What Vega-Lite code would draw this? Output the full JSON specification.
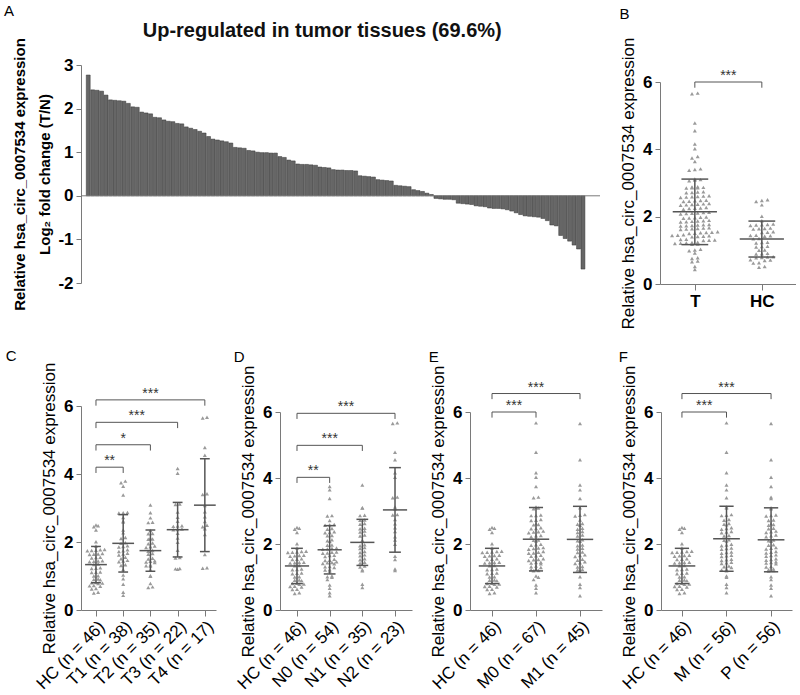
{
"$schema": "https://vega.github.io/schema/vega-lite/v6.json",
"background": "white",
"padding": {"left": 3, "top": 3, "right": 0, "bottom": 0},
"config": {
  "font": "Liberation Sans",
  "view": {"stroke": null},
  "axis": {"domainColor": "#7a7a7a", "tickColor": "#7a7a7a", "grid": false, "labelColor": "#000", "titleColor": "#000", "labelFont": "Liberation Sans", "titleFont": "Liberation Sans", "labelOverlap": false},
  "title": {"font": "Liberation Sans", "fontSize": 15, "fontWeight": "normal", "anchor": "start", "frame": "bounds", "color": "#000"}
},
"datasets": {
"fc": [
{"fc":2.77},{"fc":2.43},{"fc":2.42},{"fc":2.40},{"fc":2.31},{"fc":2.20},{"fc":2.19},{"fc":2.18},{"fc":2.17},{"fc":2.12},
{"fc":2.04},{"fc":2.03},{"fc":1.92},{"fc":1.90},{"fc":1.88},{"fc":1.80},{"fc":1.79},{"fc":1.74},{"fc":1.71},{"fc":1.70},
{"fc":1.66},{"fc":1.65},{"fc":1.58},{"fc":1.55},{"fc":1.52},{"fc":1.48},{"fc":1.44},{"fc":1.36},{"fc":1.30},{"fc":1.28},
{"fc":1.26},{"fc":1.24},{"fc":1.21},{"fc":1.11},{"fc":1.10},{"fc":1.09},{"fc":1.04},{"fc":1.03},{"fc":1.00},{"fc":0.99},
{"fc":0.99},{"fc":0.98},{"fc":0.98},{"fc":0.90},{"fc":0.88},{"fc":0.82},{"fc":0.80},{"fc":0.73},{"fc":0.72},{"fc":0.72},
{"fc":0.71},{"fc":0.70},{"fc":0.66},{"fc":0.65},{"fc":0.64},{"fc":0.60},{"fc":0.59},{"fc":0.59},{"fc":0.58},{"fc":0.58},
{"fc":0.57},{"fc":0.46},{"fc":0.45},{"fc":0.44},{"fc":0.43},{"fc":0.37},{"fc":0.36},{"fc":0.35},{"fc":0.34},{"fc":0.24},
{"fc":0.23},{"fc":0.22},{"fc":0.21},{"fc":0.14},{"fc":0.12},{"fc":0.10},{"fc":0.06},{"fc":0.03},
{"fc":-0.06},{"fc":-0.07},{"fc":-0.08},{"fc":-0.08},{"fc":-0.09},{"fc":-0.17},{"fc":-0.18},{"fc":-0.19},{"fc":-0.20},{"fc":-0.23},
{"fc":-0.24},{"fc":-0.25},{"fc":-0.28},{"fc":-0.29},{"fc":-0.29},{"fc":-0.30},{"fc":-0.32},{"fc":-0.35},{"fc":-0.39},{"fc":-0.43},
{"fc":-0.46},{"fc":-0.47},{"fc":-0.48},{"fc":-0.49},{"fc":-0.52},{"fc":-0.57},{"fc":-0.67},{"fc":-0.69},{"fc":-0.91},{"fc":-0.98},
{"fc":-1.04},{"fc":-1.13},{"fc":-1.22},{"fc":-1.68}
],
"pts": [
{"v":5.67,"t":"T4","n":"N2","m":"M0","h":"M"},
{"v":5.65,"t":"T4","n":"N2","m":"M1","h":"P"},
{"v":4.78,"t":"T4","n":"N2","m":"M0","h":"M"},
{"v":4.55,"t":"T4","n":"N2","m":"M1","h":"P"},
{"v":4.16,"t":"T3","n":"N2","m":"M0","h":"M"},
{"v":4.02,"t":"T3","n":"N2","m":"M0","h":"P"},
{"v":3.79,"t":"T1","n":"N1","m":"M1","h":"M"},
{"v":3.74,"t":"T1","n":"N0","m":"M0","h":"P"},
{"v":3.64,"t":"T1","n":"N0","m":"M1","h":"M"},
{"v":3.42,"t":"T4","n":"N2","m":"M0","h":"P"},
{"v":3.40,"t":"T4","n":"N2","m":"M0","h":"M"},
{"v":3.38,"t":"T1","n":"N0","m":"M1","h":"P"},
{"v":3.12,"t":"T3","n":"N2","m":"M0","h":"M"},
{"v":3.10,"t":"T3","n":"N1","m":"M1","h":"P"},
{"v":3.09,"t":"T2","n":"N1","m":"M0","h":"M"},
{"v":3.07,"t":"T4","n":"N2","m":"M0","h":"P"},
{"v":2.89,"t":"T4","n":"N2","m":"M1","h":"M"},
{"v":2.88,"t":"T3","n":"N2","m":"M0","h":"P"},
{"v":2.87,"t":"T1","n":"N1","m":"M1","h":"M"},
{"v":2.86,"t":"T1","n":"N1","m":"M0","h":"P"},
{"v":2.86,"t":"T2","n":"N0","m":"M0","h":"M"},
{"v":2.85,"t":"T1","n":"N0","m":"M1","h":"P"},
{"v":2.74,"t":"T4","n":"N2","m":"M0","h":"M"},
{"v":2.73,"t":"T3","n":"N1","m":"M1","h":"P"},
{"v":2.72,"t":"T1","n":"N1","m":"M0","h":"M"},
{"v":2.71,"t":"T2","n":"N0","m":"M0","h":"P"},
{"v":2.62,"t":"T1","n":"N1","m":"M1","h":"M"},
{"v":2.61,"t":"T3","n":"N2","m":"M0","h":"P"},
{"v":2.60,"t":"T4","n":"N1","m":"M1","h":"M"},
{"v":2.59,"t":"T1","n":"N0","m":"M0","h":"P"},
{"v":2.58,"t":"T2","n":"N0","m":"M0","h":"M"},
{"v":2.57,"t":"T2","n":"N0","m":"M1","h":"P"},
{"v":2.49,"t":"T4","n":"N2","m":"M0","h":"M"},
{"v":2.48,"t":"T3","n":"N1","m":"M1","h":"P"},
{"v":2.47,"t":"T3","n":"N0","m":"M0","h":"M"},
{"v":2.46,"t":"T3","n":"N1","m":"M0","h":"P"},
{"v":2.45,"t":"T4","n":"N0","m":"M1","h":"M"},
{"v":2.39,"t":"T4","n":"N1","m":"M0","h":"P"},
{"v":2.38,"t":"T3","n":"N2","m":"M1","h":"M"},
{"v":2.37,"t":"T3","n":"N0","m":"M0","h":"P"},
{"v":2.36,"t":"T3","n":"N1","m":"M0","h":"M"},
{"v":2.35,"t":"T1","n":"N0","m":"M1","h":"P"},
{"v":2.34,"t":"T2","n":"N0","m":"M0","h":"M"},
{"v":2.27,"t":"T1","n":"N1","m":"M1","h":"P"},
{"v":2.26,"t":"T3","n":"N0","m":"M0","h":"M"},
{"v":2.25,"t":"T2","n":"N0","m":"M0","h":"P"},
{"v":2.24,"t":"T2","n":"N1","m":"M1","h":"M"},
{"v":2.22,"t":"T4","n":"N2","m":"M0","h":"P"},
{"v":2.13,"t":"T1","n":"N0","m":"M1","h":"M"},
{"v":2.12,"t":"T3","n":"N2","m":"M0","h":"P"},
{"v":2.11,"t":"T2","n":"N1","m":"M0","h":"M"},
{"v":2.10,"t":"T1","n":"N0","m":"M1","h":"P"},
{"v":2.09,"t":"T2","n":"N1","m":"M0","h":"M"},
{"v":2.08,"t":"T2","n":"N0","m":"M1","h":"P"},
{"v":1.99,"t":"T3","n":"N2","m":"M0","h":"M"},
{"v":1.98,"t":"T1","n":"N1","m":"M0","h":"P"},
{"v":1.97,"t":"T2","n":"N0","m":"M1","h":"M"},
{"v":1.96,"t":"T1","n":"N0","m":"M0","h":"P"},
{"v":1.95,"t":"T2","n":"N1","m":"M1","h":"M"},
{"v":1.89,"t":"T1","n":"N1","m":"M0","h":"P"},
{"v":1.88,"t":"T2","n":"N0","m":"M0","h":"M"},
{"v":1.87,"t":"T1","n":"N0","m":"M1","h":"P"},
{"v":1.86,"t":"T2","n":"N1","m":"M0","h":"M"},
{"v":1.85,"t":"T1","n":"N0","m":"M1","h":"P"},
{"v":1.84,"t":"T2","n":"N0","m":"M0","h":"M"},
{"v":1.77,"t":"T1","n":"N1","m":"M0","h":"P"},
{"v":1.76,"t":"T3","n":"N0","m":"M1","h":"M"},
{"v":1.75,"t":"T2","n":"N0","m":"M0","h":"P"},
{"v":1.74,"t":"T1","n":"N1","m":"M1","h":"M"},
{"v":1.73,"t":"T2","n":"N0","m":"M0","h":"P"},
{"v":1.72,"t":"T1","n":"N0","m":"M0","h":"M"},
{"v":1.67,"t":"T1","n":"N1","m":"M1","h":"P"},
{"v":1.66,"t":"T2","n":"N0","m":"M0","h":"M"},
{"v":1.65,"t":"T1","n":"N0","m":"M1","h":"P"},
{"v":1.64,"t":"T2","n":"N1","m":"M0","h":"M"},
{"v":1.63,"t":"T4","n":"N2","m":"M0","h":"P"},
{"v":1.62,"t":"T1","n":"N0","m":"M1","h":"M"},
{"v":1.55,"t":"T1","n":"N1","m":"M0","h":"P"},
{"v":1.54,"t":"T3","n":"N0","m":"M1","h":"M"},
{"v":1.53,"t":"T3","n":"N2","m":"M0","h":"P"},
{"v":1.52,"t":"T2","n":"N1","m":"M0","h":"M"},
{"v":1.51,"t":"T1","n":"N0","m":"M1","h":"P"},
{"v":1.50,"t":"T2","n":"N0","m":"M0","h":"M"},
{"v":1.46,"t":"T1","n":"N0","m":"M1","h":"P"},
{"v":1.45,"t":"T2","n":"N1","m":"M0","h":"M"},
{"v":1.44,"t":"T1","n":"N0","m":"M0","h":"P"},
{"v":1.43,"t":"T2","n":"N0","m":"M1","h":"M"},
{"v":1.42,"t":"T1","n":"N1","m":"M0","h":"P"},
{"v":1.41,"t":"T2","n":"N0","m":"M1","h":"M"},
{"v":1.40,"t":"T2","n":"N0","m":"M0","h":"P"},
{"v":1.33,"t":"T1","n":"N1","m":"M0","h":"M"},
{"v":1.32,"t":"T2","n":"N0","m":"M1","h":"P"},
{"v":1.31,"t":"T1","n":"N0","m":"M0","h":"M"},
{"v":1.30,"t":"T2","n":"N1","m":"M1","h":"P"},
{"v":1.29,"t":"T2","n":"N0","m":"M0","h":"M"},
{"v":1.24,"t":"T4","n":"N2","m":"M0","h":"P"},
{"v":1.23,"t":"T4","n":"N0","m":"M1","h":"M"},
{"v":1.22,"t":"T3","n":"N1","m":"M0","h":"P"},
{"v":1.21,"t":"T3","n":"N0","m":"M1","h":"M"},
{"v":1.20,"t":"T3","n":"N2","m":"M0","h":"P"},
{"v":1.19,"t":"T1","n":"N1","m":"M0","h":"M"},
{"v":1.18,"t":"T2","n":"N0","m":"M1","h":"P"},
{"v":1.03,"t":"T1","n":"N0","m":"M0","h":"M"},
{"v":1.01,"t":"T2","n":"N0","m":"M1","h":"P"},
{"v":0.99,"t":"T2","n":"N0","m":"M0","h":"M"},
{"v":0.92,"t":"T1","n":"N0","m":"M0","h":"P"},
{"v":0.78,"t":"T2","n":"N1","m":"M1","h":"M"},
{"v":0.76,"t":"T1","n":"N0","m":"M0","h":"P"},
{"v":0.68,"t":"T2","n":"N1","m":"M1","h":"M"},
{"v":0.66,"t":"T2","n":"N0","m":"M0","h":"P"},
{"v":0.52,"t":"T1","n":"N0","m":"M0","h":"M"},
{"v":0.43,"t":"T1","n":"N0","m":"M1","h":"P"},
{"v":2.50,"t":"HC","n":"HC","m":"HC","h":"HC"},
{"v":2.48,"t":"HC","n":"HC","m":"HC","h":"HC"},
{"v":2.45,"t":"HC","n":"HC","m":"HC","h":"HC"},
{"v":2.35,"t":"HC","n":"HC","m":"HC","h":"HC"},
{"v":2.01,"t":"HC","n":"HC","m":"HC","h":"HC"},
{"v":1.88,"t":"HC","n":"HC","m":"HC","h":"HC"},
{"v":1.78,"t":"HC","n":"HC","m":"HC","h":"HC"},
{"v":1.77,"t":"HC","n":"HC","m":"HC","h":"HC"},
{"v":1.76,"t":"HC","n":"HC","m":"HC","h":"HC"},
{"v":1.75,"t":"HC","n":"HC","m":"HC","h":"HC"},
{"v":1.74,"t":"HC","n":"HC","m":"HC","h":"HC"},
{"v":1.66,"t":"HC","n":"HC","m":"HC","h":"HC"},
{"v":1.65,"t":"HC","n":"HC","m":"HC","h":"HC"},
{"v":1.64,"t":"HC","n":"HC","m":"HC","h":"HC"},
{"v":1.63,"t":"HC","n":"HC","m":"HC","h":"HC"},
{"v":1.55,"t":"HC","n":"HC","m":"HC","h":"HC"},
{"v":1.54,"t":"HC","n":"HC","m":"HC","h":"HC"},
{"v":1.53,"t":"HC","n":"HC","m":"HC","h":"HC"},
{"v":1.45,"t":"HC","n":"HC","m":"HC","h":"HC"},
{"v":1.44,"t":"HC","n":"HC","m":"HC","h":"HC"},
{"v":1.43,"t":"HC","n":"HC","m":"HC","h":"HC"},
{"v":1.42,"t":"HC","n":"HC","m":"HC","h":"HC"},
{"v":1.35,"t":"HC","n":"HC","m":"HC","h":"HC"},
{"v":1.34,"t":"HC","n":"HC","m":"HC","h":"HC"},
{"v":1.24,"t":"HC","n":"HC","m":"HC","h":"HC"},
{"v":1.23,"t":"HC","n":"HC","m":"HC","h":"HC"},
{"v":1.22,"t":"HC","n":"HC","m":"HC","h":"HC"},
{"v":1.12,"t":"HC","n":"HC","m":"HC","h":"HC"},
{"v":1.11,"t":"HC","n":"HC","m":"HC","h":"HC"},
{"v":1.10,"t":"HC","n":"HC","m":"HC","h":"HC"},
{"v":1.01,"t":"HC","n":"HC","m":"HC","h":"HC"},
{"v":1.00,"t":"HC","n":"HC","m":"HC","h":"HC"},
{"v":0.91,"t":"HC","n":"HC","m":"HC","h":"HC"},
{"v":0.90,"t":"HC","n":"HC","m":"HC","h":"HC"},
{"v":0.89,"t":"HC","n":"HC","m":"HC","h":"HC"},
{"v":0.81,"t":"HC","n":"HC","m":"HC","h":"HC"},
{"v":0.80,"t":"HC","n":"HC","m":"HC","h":"HC"},
{"v":0.79,"t":"HC","n":"HC","m":"HC","h":"HC"},
{"v":0.78,"t":"HC","n":"HC","m":"HC","h":"HC"},
{"v":0.72,"t":"HC","n":"HC","m":"HC","h":"HC"},
{"v":0.71,"t":"HC","n":"HC","m":"HC","h":"HC"},
{"v":0.70,"t":"HC","n":"HC","m":"HC","h":"HC"},
{"v":0.63,"t":"HC","n":"HC","m":"HC","h":"HC"},
{"v":0.62,"t":"HC","n":"HC","m":"HC","h":"HC"},
{"v":0.52,"t":"HC","n":"HC","m":"HC","h":"HC"},
{"v":0.50,"t":"HC","n":"HC","m":"HC","h":"HC"}
]
},
"spacing": 18,
"vconcat": [
{
"spacing": 18,
"hconcat": [
{
  "width": 519, "height": 218,
  "title": {"text": "A", "offset": 2, "dx": -9},
  "resolve": {"axis": {"x": "independent", "y": "independent"}},
  "layer": [
    {
      "data": {"name": "fc"},
      "transform": [{"window": [{"op": "row_number", "as": "rank"}], "sort": [{"field": "fc", "order": "descending"}]}],
      "mark": {"type": "bar", "width": 3.9, "color": "#666666", "stroke": "#333333", "strokeWidth": 0.5},
      "encoding": {
        "x": {"field": "rank", "type": "quantitative", "scale": {"domain": [0.5, 114.7], "nice": false, "zero": false}, "axis": null},
        "y": {"field": "fc", "type": "quantitative", "scale": {"domain": [-2, 3], "nice": false},
              "axis": {"values": [-2, -1, 0, 1, 2, 3], "labelExpr": "'' + datum.value", "title": ["Relative hsa_circ_0007534 expression", "Log₂ fold change (T/N)"], "titleFontSize": 15, "titleFontWeight": "bold", "titleLineHeight": 25, "labelFontSize": 17, "labelFontWeight": "bold", "tickSize": 5, "labelPadding": 3, "titlePadding": 5}}
      }
    },
    {"data": {"values": [{"base": 0}]},
     "mark": {"type": "rule", "color": "#7a7a7a"},
     "encoding": {"y": {"field": "base", "type": "quantitative", "axis": null}}},
    {"data": {"values": [{"label": "Up-regulated in tumor tissues (69.6%)", "px": 53.5, "py": 3.78}]},
     "mark": {"type": "text", "fontSize": 20, "fontWeight": "bold", "font": "Liberation Sans", "color": "#111"},
     "encoding": {"x": {"field": "px", "type": "quantitative", "axis": null}, "y": {"field": "py", "type": "quantitative", "axis": null}, "text": {"field": "label"}}}
  ]
},
{
  "width": 136, "height": 219,
  "title": {"text": "B", "offset": 15},
  "resolve": {"axis": {"x": "independent", "y": "independent"}},
  "layer": [
    {
      "data": {"name": "pts"},
      "transform": [
        {"calculate": "datum.t == 'HC' ? 'HC' : 'T'", "as": "g"},
        {"calculate": "indexof(['T','HC'], datum.g)", "as": "idx"},
        {"calculate": "floor(datum.v / 0.12)", "as": "bin"},
        {"window": [{"op": "row_number", "as": "k"}, {"op": "count", "as": "cnt"}], "groupby": ["g", "bin"], "sort": [{"field": "v", "order": "ascending"}], "frame": [null, null]},
        {"calculate": "datum.idx + (datum.k - (datum.cnt + 1) / 2) * 0.085", "as": "xp"}
      ],
      "mark": {"type": "point", "shape": "triangle-up", "filled": true, "size": 16, "color": "#9a9a9a", "opacity": 1},
      "encoding": {
        "x": {"field": "xp", "type": "quantitative", "scale": {"domain": [-0.52, 1.51], "nice": false, "zero": false},
              "axis": {"values": [0, 1], "labelExpr": "['T','HC'][datum.value]", "title": null, "labelAngle": 0, "labelFontSize": 17, "labelFontWeight": "bold", "tickSize": 6, "labelPadding": 3, "labelOverlap": false, "labelFlush": false}},
        "y": {"field": "v", "type": "quantitative", "scale": {"domain": [0, 6], "range": [219, 17], "nice": false},
              "axis": {"values": [0, 2, 4, 6], "title": "Relative hsa_circ_0007534 expression", "titleFontSize": 17, "titleFontWeight": "normal", "labelFontSize": 17, "labelFontWeight": "bold", "tickSize": 5, "labelPadding": 3, "titlePadding": 5}}
      }
    },
    {
      "data": {"name": "pts"},
      "transform": [
        {"calculate": "datum.t == 'HC' ? 'HC' : 'T'", "as": "g"},
        {"aggregate": [{"op": "mean", "field": "v", "as": "mu"}, {"op": "stdev", "field": "v", "as": "sd"}], "groupby": ["g"]},
        {"calculate": "indexof(['T','HC'], datum.g)", "as": "idx"},
        {"calculate": "datum.mu - datum.sd", "as": "lo"},
        {"calculate": "datum.mu + datum.sd", "as": "hi"},
        {"calculate": "datum.idx - 0.33", "as": "m1"},
        {"calculate": "datum.idx + 0.33", "as": "m2"},
        {"calculate": "datum.idx - 0.2", "as": "c1"},
        {"calculate": "datum.idx + 0.2", "as": "c2"}
      ],
      "layer": [
        {"mark": {"type": "rule", "color": "#555", "strokeWidth": 1.5}, "encoding": {"x": {"field": "m1", "type": "quantitative", "axis": null}, "x2": {"field": "m2"}, "y": {"field": "mu", "type": "quantitative", "axis": null}}},
        {"mark": {"type": "rule", "color": "#555", "strokeWidth": 1.5}, "encoding": {"x": {"field": "idx", "type": "quantitative", "axis": null}, "y": {"field": "lo", "type": "quantitative", "axis": null}, "y2": {"field": "hi"}}},
        {"mark": {"type": "rule", "color": "#555", "strokeWidth": 1.5}, "encoding": {"x": {"field": "c1", "type": "quantitative", "axis": null}, "x2": {"field": "c2"}, "y": {"field": "hi", "type": "quantitative", "axis": null}}},
        {"mark": {"type": "rule", "color": "#555", "strokeWidth": 1.5}, "encoding": {"x": {"field": "c1", "type": "quantitative", "axis": null}, "x2": {"field": "c2"}, "y": {"field": "lo", "type": "quantitative", "axis": null}}}
      ]
    },
    {
      "data": {"values": [{"a": "T", "b": "HC", "lab": "***"}]},
      "transform": [
        {"calculate": "indexof(['T','HC'], datum.a)", "as": "ia"},
        {"calculate": "indexof(['T','HC'], datum.b)", "as": "ib"},
        {"calculate": "6.0", "as": "lev"},
        {"calculate": "datum.lev - 0.17", "as": "low"},
        {"calculate": "(datum.ia + datum.ib) / 2", "as": "mid"}
      ],
      "layer": [
        {"mark": {"type": "rule", "color": "#555", "strokeWidth": 1}, "encoding": {"x": {"field": "ia", "type": "quantitative", "axis": null}, "x2": {"field": "ib"}, "y": {"field": "lev", "type": "quantitative", "axis": null}}},
        {"mark": {"type": "rule", "color": "#555", "strokeWidth": 1}, "encoding": {"x": {"field": "ia", "type": "quantitative", "axis": null}, "y": {"field": "lev", "type": "quantitative", "axis": null}, "y2": {"field": "low"}}},
        {"mark": {"type": "rule", "color": "#555", "strokeWidth": 1}, "encoding": {"x": {"field": "ib", "type": "quantitative", "axis": null}, "y": {"field": "lev", "type": "quantitative", "axis": null}, "y2": {"field": "low"}}},
        {"mark": {"type": "text", "fontSize": 14, "color": "#333", "baseline": "alphabetic", "dy": -2, "font": "Liberation Sans"}, "encoding": {"x": {"field": "mid", "type": "quantitative", "axis": null}, "y": {"field": "lev", "type": "quantitative", "axis": null}, "text": {"field": "lab"}}}
      ]
    }
  ]
}
]
},
{
"spacing": 16,
"hconcat": [
{
  "width": 135, "height": 204,
  "title": {"text": "C", "offset": -2, "dx": -27},
  "resolve": {"axis": {"x": "independent", "y": "independent"}},
  "layer": [
    {
      "data": {"name": "pts"},
      "transform": [
        {"calculate": "datum.t", "as": "g"},
        {"calculate": "indexof(['HC','T1','T2','T3','T4'], datum.g)", "as": "idx"},
        {"calculate": "floor(datum.v / 0.1)", "as": "bin"},
        {"window": [{"op": "row_number", "as": "k"}, {"op": "count", "as": "cnt"}], "groupby": ["g", "bin"], "sort": [{"field": "v", "order": "ascending"}], "frame": [null, null]},
        {"calculate": "datum.idx + (datum.k - (datum.cnt + 1) / 2) * 0.158", "as": "xp"}
      ],
      "mark": {"type": "point", "shape": "triangle-up", "filled": true, "size": 16, "color": "#9a9a9a", "opacity": 1},
      "encoding": {
        "x": {"field": "xp", "type": "quantitative", "scale": {"domain": [-0.55, 4.41], "nice": false, "zero": false},
              "axis": {"values": [0, 1, 2, 3, 4], "labelExpr": "['HC (n = 46)','T1 (n = 38)','T2 (n = 35)','T3 (n = 22)','T4 (n = 17)'][datum.value]", "title": null, "labelAngle": -45, "labelFontSize": 17, "tickSize": 6, "labelPadding": 2, "labelOverlap": false, "labelFlush": false}},
        "y": {"field": "v", "type": "quantitative", "scale": {"domain": [0, 6], "nice": false},
              "axis": {"values": [0, 2, 4, 6], "title": "Relative hsa_circ_0007534 expression", "titleFontSize": 17, "titleFontWeight": "normal", "labelFontSize": 17, "labelFontWeight": "bold", "tickSize": 5, "labelPadding": 3, "titlePadding": 5}}
      }
    },
    {
      "data": {"name": "pts"},
      "transform": [
        {"calculate": "datum.t", "as": "g"},
        {"aggregate": [{"op": "mean", "field": "v", "as": "mu"}, {"op": "stdev", "field": "v", "as": "sd"}], "groupby": ["g"]},
        {"calculate": "indexof(['HC','T1','T2','T3','T4'], datum.g)", "as": "idx"},
        {"calculate": "datum.mu - datum.sd", "as": "lo"},
        {"calculate": "datum.mu + datum.sd", "as": "hi"},
        {"calculate": "datum.idx - 0.4", "as": "m1"},
        {"calculate": "datum.idx + 0.4", "as": "m2"},
        {"calculate": "datum.idx - 0.18", "as": "c1"},
        {"calculate": "datum.idx + 0.18", "as": "c2"}
      ],
      "layer": [
        {"mark": {"type": "rule", "color": "#555", "strokeWidth": 1.5}, "encoding": {"x": {"field": "m1", "type": "quantitative", "axis": null}, "x2": {"field": "m2"}, "y": {"field": "mu", "type": "quantitative", "axis": null}}},
        {"mark": {"type": "rule", "color": "#555", "strokeWidth": 1.5}, "encoding": {"x": {"field": "idx", "type": "quantitative", "axis": null}, "y": {"field": "lo", "type": "quantitative", "axis": null}, "y2": {"field": "hi"}}},
        {"mark": {"type": "rule", "color": "#555", "strokeWidth": 1.5}, "encoding": {"x": {"field": "c1", "type": "quantitative", "axis": null}, "x2": {"field": "c2"}, "y": {"field": "hi", "type": "quantitative", "axis": null}}},
        {"mark": {"type": "rule", "color": "#555", "strokeWidth": 1.5}, "encoding": {"x": {"field": "c1", "type": "quantitative", "axis": null}, "x2": {"field": "c2"}, "y": {"field": "lo", "type": "quantitative", "axis": null}}}
      ]
    },
    {
      "data": {"values": [{"a": "HC", "b": "T1", "lab": "**"}, {"a": "HC", "b": "T2", "lab": "*"}, {"a": "HC", "b": "T3", "lab": "***"}, {"a": "HC", "b": "T4", "lab": "***"}]},
      "transform": [
        {"calculate": "indexof(['HC','T1','T2','T3','T4'], datum.a)", "as": "ia"},
        {"calculate": "indexof(['HC','T1','T2','T3','T4'], datum.b)", "as": "ib"},
        {"calculate": "4.2 + 0.66 * (datum.ib - 1)", "as": "lev"},
        {"calculate": "datum.lev - 0.17", "as": "low"},
        {"calculate": "(datum.ia + datum.ib) / 2", "as": "mid"}
      ],
      "layer": [
        {"mark": {"type": "rule", "color": "#555", "strokeWidth": 1}, "encoding": {"x": {"field": "ia", "type": "quantitative", "axis": null}, "x2": {"field": "ib"}, "y": {"field": "lev", "type": "quantitative", "axis": null}}},
        {"mark": {"type": "rule", "color": "#555", "strokeWidth": 1}, "encoding": {"x": {"field": "ia", "type": "quantitative", "axis": null}, "y": {"field": "lev", "type": "quantitative", "axis": null}, "y2": {"field": "low"}}},
        {"mark": {"type": "rule", "color": "#555", "strokeWidth": 1}, "encoding": {"x": {"field": "ib", "type": "quantitative", "axis": null}, "y": {"field": "lev", "type": "quantitative", "axis": null}, "y2": {"field": "low"}}},
        {"mark": {"type": "text", "fontSize": 14, "color": "#333", "baseline": "alphabetic", "dy": -2, "font": "Liberation Sans"}, "encoding": {"x": {"field": "mid", "type": "quantitative", "axis": null}, "y": {"field": "lev", "type": "quantitative", "axis": null}, "text": {"field": "lab"}}}
      ]
    }
  ]
},
{
  "width": 132, "height": 204,
  "title": {"text": "D", "offset": 0},
  "resolve": {"axis": {"x": "independent", "y": "independent"}},
  "layer": [
    {
      "data": {"name": "pts"},
      "transform": [
        {"calculate": "datum.n", "as": "g"},
        {"calculate": "indexof(['HC','N0','N1','N2'], datum.g)", "as": "idx"},
        {"calculate": "floor(datum.v / 0.1)", "as": "bin"},
        {"window": [{"op": "row_number", "as": "k"}, {"op": "count", "as": "cnt"}], "groupby": ["g", "bin"], "sort": [{"field": "v", "order": "ascending"}], "frame": [null, null]},
        {"calculate": "datum.idx + (datum.k - (datum.cnt + 1) / 2) * 0.14", "as": "xp"}
      ],
      "mark": {"type": "point", "shape": "triangle-up", "filled": true, "size": 16, "color": "#9a9a9a", "opacity": 1},
      "encoding": {
        "x": {"field": "xp", "type": "quantitative", "scale": {"domain": [-0.52, 3.52], "nice": false, "zero": false},
              "axis": {"values": [0, 1, 2, 3], "labelExpr": "['HC (n = 46)','N0 (n = 54)','N1 (n = 35)','N2 (n = 23)'][datum.value]", "title": null, "labelAngle": -45, "labelFontSize": 17, "tickSize": 6, "labelPadding": 2, "labelOverlap": false, "labelFlush": false}},
        "y": {"field": "v", "type": "quantitative", "scale": {"domain": [0, 6], "range": [204, 6], "nice": false},
              "axis": {"values": [0, 2, 4, 6], "title": "Relative hsa_circ_0007534 expression", "titleFontSize": 17, "titleFontWeight": "normal", "labelFontSize": 17, "labelFontWeight": "bold", "tickSize": 5, "labelPadding": 3, "titlePadding": 5}}
      }
    },
    {
      "data": {"name": "pts"},
      "transform": [
        {"calculate": "datum.n", "as": "g"},
        {"aggregate": [{"op": "mean", "field": "v", "as": "mu"}, {"op": "stdev", "field": "v", "as": "sd"}], "groupby": ["g"]},
        {"calculate": "indexof(['HC','N0','N1','N2'], datum.g)", "as": "idx"},
        {"calculate": "datum.mu - datum.sd", "as": "lo"},
        {"calculate": "datum.mu + datum.sd", "as": "hi"},
        {"calculate": "datum.idx - 0.37", "as": "m1"},
        {"calculate": "datum.idx + 0.37", "as": "m2"},
        {"calculate": "datum.idx - 0.18", "as": "c1"},
        {"calculate": "datum.idx + 0.18", "as": "c2"}
      ],
      "layer": [
        {"mark": {"type": "rule", "color": "#555", "strokeWidth": 1.5}, "encoding": {"x": {"field": "m1", "type": "quantitative", "axis": null}, "x2": {"field": "m2"}, "y": {"field": "mu", "type": "quantitative", "axis": null}}},
        {"mark": {"type": "rule", "color": "#555", "strokeWidth": 1.5}, "encoding": {"x": {"field": "idx", "type": "quantitative", "axis": null}, "y": {"field": "lo", "type": "quantitative", "axis": null}, "y2": {"field": "hi"}}},
        {"mark": {"type": "rule", "color": "#555", "strokeWidth": 1.5}, "encoding": {"x": {"field": "c1", "type": "quantitative", "axis": null}, "x2": {"field": "c2"}, "y": {"field": "hi", "type": "quantitative", "axis": null}}},
        {"mark": {"type": "rule", "color": "#555", "strokeWidth": 1.5}, "encoding": {"x": {"field": "c1", "type": "quantitative", "axis": null}, "x2": {"field": "c2"}, "y": {"field": "lo", "type": "quantitative", "axis": null}}}
      ]
    },
    {
      "data": {"values": [{"a": "HC", "b": "N0", "lab": "**"}, {"a": "HC", "b": "N1", "lab": "***"}, {"a": "HC", "b": "N2", "lab": "***"}]},
      "transform": [
        {"calculate": "indexof(['HC','N0','N1','N2'], datum.a)", "as": "ia"},
        {"calculate": "indexof(['HC','N0','N1','N2'], datum.b)", "as": "ib"},
        {"calculate": "4.02 + 0.97 * (datum.ib - 1)", "as": "lev"},
        {"calculate": "datum.lev - 0.17", "as": "low"},
        {"calculate": "(datum.ia + datum.ib) / 2", "as": "mid"}
      ],
      "layer": [
        {"mark": {"type": "rule", "color": "#555", "strokeWidth": 1}, "encoding": {"x": {"field": "ia", "type": "quantitative", "axis": null}, "x2": {"field": "ib"}, "y": {"field": "lev", "type": "quantitative", "axis": null}}},
        {"mark": {"type": "rule", "color": "#555", "strokeWidth": 1}, "encoding": {"x": {"field": "ia", "type": "quantitative", "axis": null}, "y": {"field": "lev", "type": "quantitative", "axis": null}, "y2": {"field": "low"}}},
        {"mark": {"type": "rule", "color": "#555", "strokeWidth": 1}, "encoding": {"x": {"field": "ib", "type": "quantitative", "axis": null}, "y": {"field": "lev", "type": "quantitative", "axis": null}, "y2": {"field": "low"}}},
        {"mark": {"type": "text", "fontSize": 14, "color": "#333", "baseline": "alphabetic", "dy": -2, "font": "Liberation Sans"}, "encoding": {"x": {"field": "mid", "type": "quantitative", "axis": null}, "y": {"field": "lev", "type": "quantitative", "axis": null}, "text": {"field": "lab"}}}
      ]
    }
  ]
},
{
  "width": 132, "height": 204,
  "title": {"text": "E", "offset": 0},
  "resolve": {"axis": {"x": "independent", "y": "independent"}},
  "layer": [
    {
      "data": {"name": "pts"},
      "transform": [
        {"calculate": "datum.m", "as": "g"},
        {"calculate": "indexof(['HC','M0','M1'], datum.g)", "as": "idx"},
        {"calculate": "floor(datum.v / 0.1)", "as": "bin"},
        {"window": [{"op": "row_number", "as": "k"}, {"op": "count", "as": "cnt"}], "groupby": ["g", "bin"], "sort": [{"field": "v", "order": "ascending"}], "frame": [null, null]},
        {"calculate": "datum.idx + (datum.k - (datum.cnt + 1) / 2) * 0.11", "as": "xp"}
      ],
      "mark": {"type": "point", "shape": "triangle-up", "filled": true, "size": 16, "color": "#9a9a9a", "opacity": 1},
      "encoding": {
        "x": {"field": "xp", "type": "quantitative", "scale": {"domain": [-0.5, 2.5], "nice": false, "zero": false},
              "axis": {"values": [0, 1, 2], "labelExpr": "['HC (n = 46)','M0 (n = 67)','M1 (n = 45)'][datum.value]", "title": null, "labelAngle": -45, "labelFontSize": 17, "tickSize": 6, "labelPadding": 2, "labelOverlap": false, "labelFlush": false}},
        "y": {"field": "v", "type": "quantitative", "scale": {"domain": [0, 6], "range": [204, 6], "nice": false},
              "axis": {"values": [0, 2, 4, 6], "title": "Relative hsa_circ_0007534 expression", "titleFontSize": 17, "titleFontWeight": "normal", "labelFontSize": 17, "labelFontWeight": "bold", "tickSize": 5, "labelPadding": 3, "titlePadding": 5}}
      }
    },
    {
      "data": {"name": "pts"},
      "transform": [
        {"calculate": "datum.m", "as": "g"},
        {"aggregate": [{"op": "mean", "field": "v", "as": "mu"}, {"op": "stdev", "field": "v", "as": "sd"}], "groupby": ["g"]},
        {"calculate": "indexof(['HC','M0','M1'], datum.g)", "as": "idx"},
        {"calculate": "datum.mu - datum.sd", "as": "lo"},
        {"calculate": "datum.mu + datum.sd", "as": "hi"},
        {"calculate": "datum.idx - 0.3", "as": "m1"},
        {"calculate": "datum.idx + 0.3", "as": "m2"},
        {"calculate": "datum.idx - 0.16", "as": "c1"},
        {"calculate": "datum.idx + 0.16", "as": "c2"}
      ],
      "layer": [
        {"mark": {"type": "rule", "color": "#555", "strokeWidth": 1.5}, "encoding": {"x": {"field": "m1", "type": "quantitative", "axis": null}, "x2": {"field": "m2"}, "y": {"field": "mu", "type": "quantitative", "axis": null}}},
        {"mark": {"type": "rule", "color": "#555", "strokeWidth": 1.5}, "encoding": {"x": {"field": "idx", "type": "quantitative", "axis": null}, "y": {"field": "lo", "type": "quantitative", "axis": null}, "y2": {"field": "hi"}}},
        {"mark": {"type": "rule", "color": "#555", "strokeWidth": 1.5}, "encoding": {"x": {"field": "c1", "type": "quantitative", "axis": null}, "x2": {"field": "c2"}, "y": {"field": "hi", "type": "quantitative", "axis": null}}},
        {"mark": {"type": "rule", "color": "#555", "strokeWidth": 1.5}, "encoding": {"x": {"field": "c1", "type": "quantitative", "axis": null}, "x2": {"field": "c2"}, "y": {"field": "lo", "type": "quantitative", "axis": null}}}
      ]
    },
    {
      "data": {"values": [{"a": "HC", "b": "M0", "lab": "***"}, {"a": "HC", "b": "M1", "lab": "***"}]},
      "transform": [
        {"calculate": "indexof(['HC','M0','M1'], datum.a)", "as": "ia"},
        {"calculate": "indexof(['HC','M0','M1'], datum.b)", "as": "ib"},
        {"calculate": "6.0 + 0.56 * (datum.ib - 1)", "as": "lev"},
        {"calculate": "datum.lev - 0.17", "as": "low"},
        {"calculate": "(datum.ia + datum.ib) / 2", "as": "mid"}
      ],
      "layer": [
        {"mark": {"type": "rule", "color": "#555", "strokeWidth": 1}, "encoding": {"x": {"field": "ia", "type": "quantitative", "axis": null}, "x2": {"field": "ib"}, "y": {"field": "lev", "type": "quantitative", "axis": null}}},
        {"mark": {"type": "rule", "color": "#555", "strokeWidth": 1}, "encoding": {"x": {"field": "ia", "type": "quantitative", "axis": null}, "y": {"field": "lev", "type": "quantitative", "axis": null}, "y2": {"field": "low"}}},
        {"mark": {"type": "rule", "color": "#555", "strokeWidth": 1}, "encoding": {"x": {"field": "ib", "type": "quantitative", "axis": null}, "y": {"field": "lev", "type": "quantitative", "axis": null}, "y2": {"field": "low"}}},
        {"mark": {"type": "text", "fontSize": 14, "color": "#333", "baseline": "alphabetic", "dy": -2, "font": "Liberation Sans"}, "encoding": {"x": {"field": "mid", "type": "quantitative", "axis": null}, "y": {"field": "lev", "type": "quantitative", "axis": null}, "text": {"field": "lab"}}}
      ]
    }
  ]
},
{
  "width": 131, "height": 204,
  "title": {"text": "F", "offset": 0},
  "resolve": {"axis": {"x": "independent", "y": "independent"}},
  "layer": [
    {
      "data": {"name": "pts"},
      "transform": [
        {"calculate": "datum.h", "as": "g"},
        {"calculate": "indexof(['HC','M','P'], datum.g)", "as": "idx"},
        {"calculate": "floor(datum.v / 0.1)", "as": "bin"},
        {"window": [{"op": "row_number", "as": "k"}, {"op": "count", "as": "cnt"}], "groupby": ["g", "bin"], "sort": [{"field": "v", "order": "ascending"}], "frame": [null, null]},
        {"calculate": "datum.idx + (datum.k - (datum.cnt + 1) / 2) * 0.11", "as": "xp"}
      ],
      "mark": {"type": "point", "shape": "triangle-up", "filled": true, "size": 16, "color": "#9a9a9a", "opacity": 1},
      "encoding": {
        "x": {"field": "xp", "type": "quantitative", "scale": {"domain": [-0.47, 2.47], "nice": false, "zero": false},
              "axis": {"values": [0, 1, 2], "labelExpr": "['HC (n = 46)','M (n = 56)','P (n = 56)'][datum.value]", "title": null, "labelAngle": -45, "labelFontSize": 17, "tickSize": 6, "labelPadding": 2, "labelOverlap": false, "labelFlush": false}},
        "y": {"field": "v", "type": "quantitative", "scale": {"domain": [0, 6], "range": [204, 6], "nice": false},
              "axis": {"values": [0, 2, 4, 6], "title": "Relative hsa_circ_0007534 expression", "titleFontSize": 17, "titleFontWeight": "normal", "labelFontSize": 17, "labelFontWeight": "bold", "tickSize": 5, "labelPadding": 3, "titlePadding": 5}}
      }
    },
    {
      "data": {"name": "pts"},
      "transform": [
        {"calculate": "datum.h", "as": "g"},
        {"aggregate": [{"op": "mean", "field": "v", "as": "mu"}, {"op": "stdev", "field": "v", "as": "sd"}], "groupby": ["g"]},
        {"calculate": "indexof(['HC','M','P'], datum.g)", "as": "idx"},
        {"calculate": "datum.mu - datum.sd", "as": "lo"},
        {"calculate": "datum.mu + datum.sd", "as": "hi"},
        {"calculate": "datum.idx - 0.3", "as": "m1"},
        {"calculate": "datum.idx + 0.3", "as": "m2"},
        {"calculate": "datum.idx - 0.16", "as": "c1"},
        {"calculate": "datum.idx + 0.16", "as": "c2"}
      ],
      "layer": [
        {"mark": {"type": "rule", "color": "#555", "strokeWidth": 1.5}, "encoding": {"x": {"field": "m1", "type": "quantitative", "axis": null}, "x2": {"field": "m2"}, "y": {"field": "mu", "type": "quantitative", "axis": null}}},
        {"mark": {"type": "rule", "color": "#555", "strokeWidth": 1.5}, "encoding": {"x": {"field": "idx", "type": "quantitative", "axis": null}, "y": {"field": "lo", "type": "quantitative", "axis": null}, "y2": {"field": "hi"}}},
        {"mark": {"type": "rule", "color": "#555", "strokeWidth": 1.5}, "encoding": {"x": {"field": "c1", "type": "quantitative", "axis": null}, "x2": {"field": "c2"}, "y": {"field": "hi", "type": "quantitative", "axis": null}}},
        {"mark": {"type": "rule", "color": "#555", "strokeWidth": 1.5}, "encoding": {"x": {"field": "c1", "type": "quantitative", "axis": null}, "x2": {"field": "c2"}, "y": {"field": "lo", "type": "quantitative", "axis": null}}}
      ]
    },
    {
      "data": {"values": [{"a": "HC", "b": "M", "lab": "***"}, {"a": "HC", "b": "P", "lab": "***"}]},
      "transform": [
        {"calculate": "indexof(['HC','M','P'], datum.a)", "as": "ia"},
        {"calculate": "indexof(['HC','M','P'], datum.b)", "as": "ib"},
        {"calculate": "6.0 + 0.56 * (datum.ib - 1)", "as": "lev"},
        {"calculate": "datum.lev - 0.17", "as": "low"},
        {"calculate": "(datum.ia + datum.ib) / 2", "as": "mid"}
      ],
      "layer": [
        {"mark": {"type": "rule", "color": "#555", "strokeWidth": 1}, "encoding": {"x": {"field": "ia", "type": "quantitative", "axis": null}, "x2": {"field": "ib"}, "y": {"field": "lev", "type": "quantitative", "axis": null}}},
        {"mark": {"type": "rule", "color": "#555", "strokeWidth": 1}, "encoding": {"x": {"field": "ia", "type": "quantitative", "axis": null}, "y": {"field": "lev", "type": "quantitative", "axis": null}, "y2": {"field": "low"}}},
        {"mark": {"type": "rule", "color": "#555", "strokeWidth": 1}, "encoding": {"x": {"field": "ib", "type": "quantitative", "axis": null}, "y": {"field": "lev", "type": "quantitative", "axis": null}, "y2": {"field": "low"}}},
        {"mark": {"type": "text", "fontSize": 14, "color": "#333", "baseline": "alphabetic", "dy": -2, "font": "Liberation Sans"}, "encoding": {"x": {"field": "mid", "type": "quantitative", "axis": null}, "y": {"field": "lev", "type": "quantitative", "axis": null}, "text": {"field": "lab"}}}
      ]
    }
  ]
}
]
}
]
}
